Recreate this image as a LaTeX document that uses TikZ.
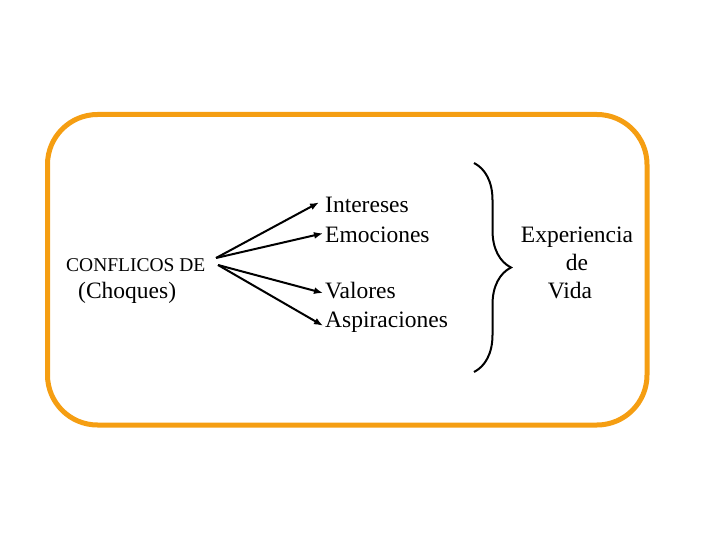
\documentclass[tikz,border=0pt]{standalone}
\usepackage{fontspec}
\setmainfont{Liberation Serif}
\usepackage{xcolor}
\usetikzlibrary{arrows.meta, decorations.pathreplacing}
\definecolor{frameorange}{RGB}{245,158,18}

\begin{document}
\begin{tikzpicture}[
    x=1pt, y=-1pt,
    frame/.style={draw=frameorange, line width=5pt, rounded corners=50pt},
    word/.style={anchor=base west, inner sep=0pt, font=\fontsize{23.5}{30}\selectfont},
    small/.style={anchor=base west, inner sep=0pt, font=\fontsize{19.5}{22}\selectfont},
    result/.style={anchor=base, inner sep=0pt, align=center, font=\fontsize{23.5}{28}\selectfont},
    arrow/.style={-{Latex[length=9pt, width=7pt]}, line width=2pt},
    bracket/.style={decorate, decoration={brace, amplitude=37pt}, line width=2pt}
]
\useasboundingbox (0,0) rectangle (720,540);

% Frame
\draw[frame] (47.5,114.5) rectangle (647,425);

% Source
\node[small] (conflicos) at (66,271) {CONFLICOS DE};
\node[word] (choques) at (78,298) {(Choques)};
\coordinate (forkup) at (216,258);
\coordinate (forkdown) at (218,265);

% Targets
\node[word] (intereses) at (325,213) {Intereses};
\node[word] (emociones) at (325,243) {Emociones};
\node[word] (valores) at (325,298) {Valores};
\node[word] (aspiraciones) at (325,327) {Aspiraciones};

% Brace and result
\coordinate (bracetop) at (474,163);
\coordinate (bracebot) at (474,372);
\node[result] (experiencia) at (577,298) {Experiencia\\de\hspace*{0.55em}\\Vida\hspace*{0.6em}};

% Arrows
\draw[arrow] (forkup) -- ([xshift=-6pt, yshift=3pt]intereses.west);
\draw[arrow] (forkup) -- ([xshift=-2pt, yshift=2pt]emociones.west);
\draw[arrow] (forkdown) -- ([xshift=-2pt, yshift=-3pt]valores.west);
\draw[arrow] (forkdown) -- ([xshift=-2pt, yshift=-4pt]aspiraciones.west);
\draw[bracket] (bracetop) -- (bracebot);

\end{tikzpicture}
\end{document}
